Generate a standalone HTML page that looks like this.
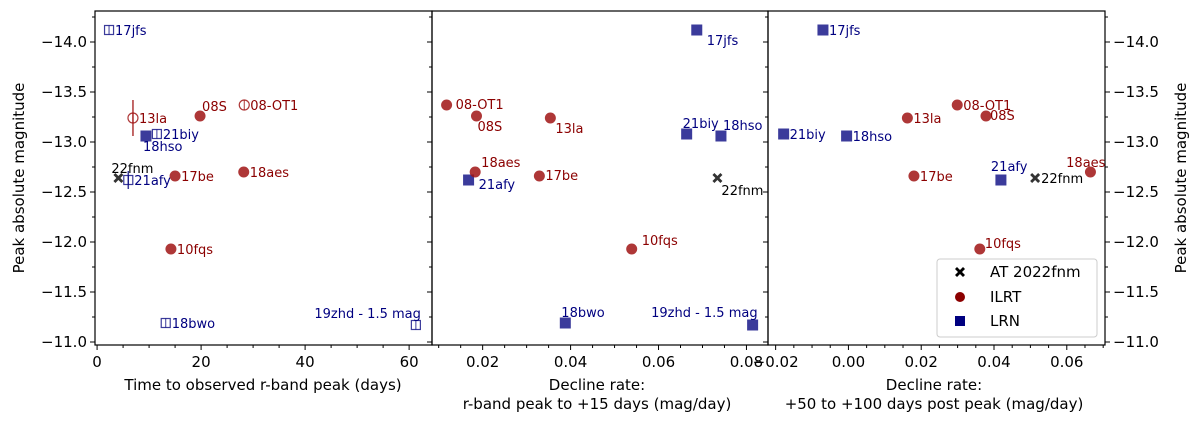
<!DOCTYPE html>
<html><head><meta charset="utf-8">
<style>
html,body{margin:0;padding:0;background:#fff;}
svg{display:block;font-family:"DejaVu Sans","Liberation Sans",sans-serif;}
</style></head>
<body>
<svg id="chart" width="1200" height="424" viewBox="0 0 1200 424" xmlns="http://www.w3.org/2000/svg">
<g id="plot"></g>
</svg>
<script>
// ---- data ----
const names = ["17jfs","13la","08S","08-OT1","18hso","21biy","22fnm","21afy","17be","18aes","10fqs","18bwo","19zhd - 1.5 mag"];
const classes = ["LRN","ILRT","ILRT","ILRT","LRN","LRN","AT","LRN","ILRT","ILRT","ILRT","LRN","LRN"];
const peakMag = [-14.12,-13.24,-13.26,-13.37,-13.06,-13.08,-12.64,-12.62,-12.66,-12.70,-11.93,-11.19,-11.17];
const riseDays = [2.3,6.9,19.8,28.3,9.4,11.5,4.1,6.0,15.0,28.2,14.2,13.2,61.3];
const riseOpen = [true,true,false,true,false,true,false,true,false,false,false,true,true];
const magErr = [0,0.18,0,0,0,0,0,0.09,0,0,0,0,0];
const decline15 = [0.0687,0.0354,0.0186,0.0118,0.0742,0.0664,0.0734,0.0168,0.0329,0.0183,0.0539,0.0388,0.0814];
const decline50 = [-0.0070,0.0162,0.0378,0.0299,-0.0005,-0.0178,0.0513,0.0419,0.0180,0.0665,0.0361,null,null];
const yTicks = [-14.0,-13.5,-13.0,-12.5,-12.0,-11.5,-11.0];
const x1Ticks = [0,20,40,60];
const x2Ticks = [0.02,0.04,0.06,0.08];
const x3Ticks = [-0.02,0.00,0.02,0.04,0.06];
// label offsets (layout, not data)
const off1 = [[6,5],[6,5],[2,-5],[6,5],[-3,15],[6,5],[-7,-5],[6,5],[6,5],[6,5],[6,5],[6,5],[5,-7,'end']];
const off2 = [[10,15],[5,15],[1,15],[9,4],[2,-6],[-4,-6],[4,17],[10,9],[6,4],[6,-5],[10,-4],[-4,-6],[5,-8,'end']];
const off3 = [[6,5],[6,5],[4,4],[6,5],[6,5],[6,5],[6,5],[-10,-9],[6,5],[15,-5,'end'],[5,-1],null,null];

const NS="http://www.w3.org/2000/svg";
const root=document.getElementById('plot');
function el(tag,attrs,parent){const e=document.createElementNS(NS,tag);for(const k in attrs)e.setAttribute(k,attrs[k]);(parent||root).appendChild(e);return e;}
const yTop=11,yBot=345;
const yMin=-14.31,yMax=-10.97;
function Y(m){return yTop+(m-yMin)/(yMax-yMin)*(yBot-yTop);}
const panels=[
 {x0:95,x1:432,lo:-0.4,hi:64.4,ticks:x1Ticks,minor:5,fmt:v=>String(v),xs:riseDays,off:off1,name:'rise-time-panel'},
 {x0:432,x1:768,lo:0.00848,hi:0.0849,ticks:x2Ticks,minor:0.005,fmt:v=>v.toFixed(2),xs:decline15,off:off2,name:'early-decline-panel'},
 {x0:768,x1:1105,lo:-0.0221,hi:0.0705,ticks:x3Ticks,minor:0.005,fmt:v=>(v<0?'\u22120':'0')+Math.abs(v).toFixed(2).slice(1),xs:decline50,off:off3,name:'late-decline-panel'}
];
const fillC={ILRT:'rgba(160,20,20,0.85)',LRN:'rgba(10,10,130,0.8)',AT:'rgba(0,0,0,0.8)'};
const textC={ILRT:'#8b0000',LRN:'#000080',AT:'#000'};

function cross(g,x,y,c){
  const p=el('path',{d:`M${x-5},${y-3} L${x-3},${y-5} L${x},${y-2} L${x+3},${y-5} L${x+5},${y-3} L${x+2},${y} L${x+5},${y+3} L${x+3},${y+5} L${x},${y+2} L${x-3},${y+5} L${x-5},${y+3} L${x-2},${y} Z`,fill:c},g);
  return p;
}

panels.forEach((P,pi)=>{
  const g=el('g',{});
  
  
  const X=v=>P.x0+(v-P.lo)/(P.hi-P.lo)*(P.x1-P.x0);
  // frame
  const fr=el('rect',{x:P.x0,y:yTop,width:P.x1-P.x0,height:yBot-yTop,fill:'none',stroke:'#000','stroke-width':1.2},g);
  
  
  // x ticks
  let start=Math.ceil(P.lo/P.minor-1e-9);
  for(let k=start;k*P.minor<=P.hi;k++){
    const v=k*P.minor,x=X(v);
    const major=P.ticks.some(t=>Math.abs(t-v)<1e-9);
    el('line',{x1:x,x2:x,y1:yBot,y2:yBot+(major?5:3),stroke:'#000','stroke-width':1},g);
  }
  P.ticks.forEach(t=>{
    const tx=el('text',{x:X(t),y:yBot+22,'font-size':15,'text-anchor':'middle',fill:'#000'},g);
    tx.textContent=P.fmt(t);
    
    
  });
  // y ticks left
  for(let m=-14.25;m<=-11;m+=0.25){
    const major=Math.abs(m*2-Math.round(m*2))<1e-9;
    const y=Y(m);
    el('line',{x1:P.x0,x2:P.x0-(major?5:3),y1:y,y2:y,stroke:'#000','stroke-width':1},g);
    if(pi==2) el('line',{x1:P.x1,x2:P.x1+(major?5:3),y1:y,y2:y,stroke:'#000','stroke-width':1},g);
  }
  if(pi==0||pi==2){
    yTicks.forEach(m=>{
      const t=el('text',{x:pi==0?P.x0-8:P.x1+8,y:Y(m)+5,'font-size':15,'text-anchor':pi==0?'end':'start',fill:'#000'},g);
      t.textContent='\u2212'+Math.abs(m).toFixed(1);
      
      
    });
  }
  // points
  names.forEach((n,i)=>{
    const xv=P.xs[i]; if(xv===null||xv===undefined) return;
    const x=X(xv),y=Y(peakMag[i]),c=classes[i];
    const open=pi==0&&riseOpen[i];
    const pg=el('g',{},g);
    
    
    if(pi==0&&magErr[i]>0){
      el('line',{x1:x,x2:x,y1:Y(peakMag[i]-magErr[i]),y2:Y(peakMag[i]+magErr[i]),stroke:fillC[c],'stroke-width':1.5},pg);
    }
    if(c==='AT'){cross(pg,x,y,fillC.AT);}
    else if(c==='ILRT'){
      if(open){el('circle',{cx:x,cy:y,r:5,fill:'none',stroke:fillC[c],'stroke-width':1.2},pg);el('line',{x1:x,x2:x,y1:y-5,y2:y+5,stroke:fillC[c],'stroke-width':1},pg);}
      else el('circle',{cx:x,cy:y,r:5.5,fill:fillC[c]},pg);
    } else {
      if(open){el('rect',{x:x-4.5,y:y-4.5,width:9,height:9,fill:'none',stroke:fillC[c],'stroke-width':1.2},pg);el('line',{x1:x,x2:x,y1:y-4.5,y2:y+4.5,stroke:fillC[c],'stroke-width':1},pg);}
      else el('rect',{x:x-5.5,y:y-5.5,width:11,height:11,fill:fillC[c]},pg);
    }
    const o=P.off[i];
    const t=el('text',{x:x+o[0],y:y+o[1],'font-size':13,fill:textC[c],'text-anchor':o[2]||'start'},pg);
    t.textContent=n;
    
    
  });
});
// axis titles
function txt(attrs,s,name){const t=el('text',attrs);t.textContent=s;return t;}
txt({x:0,y:0,'font-size':15,'text-anchor':'middle',transform:'translate(24,178) rotate(-90)'},'Peak absolute magnitude','y-axis-title-left');
txt({x:0,y:0,'font-size':15,'text-anchor':'middle',transform:'translate(1186,178) rotate(-90)'},'Peak absolute magnitude','y-axis-title-right');
txt({x:263,y:390,'font-size':15,'text-anchor':'middle'},'Time to observed r-band peak (days)','x-axis-title-rise');
txt({x:597,y:390,'font-size':15,'text-anchor':'middle'},'Decline rate:','x-axis-title-early-line1');
txt({x:597,y:409,'font-size':15,'text-anchor':'middle'},'r-band peak to +15 days (mag/day)','x-axis-title-early-line2');
txt({x:934,y:390,'font-size':15,'text-anchor':'middle'},'Decline rate:','x-axis-title-late-line1');
txt({x:934,y:409,'font-size':15,'text-anchor':'middle'},'+50 to +100 days post peak (mag/day)','x-axis-title-late-line2');
// legend
const lg=el('g',{});


el('rect',{x:937,y:259,width:160,height:78,rx:3,fill:'#fff',stroke:'#ccc','stroke-width':1},lg);
cross(lg,960,272,'#000');
el('circle',{cx:960,cy:297,r:5,fill:'#8b0000'},lg);
el('rect',{x:955,y:316,width:10,height:10,fill:'#000080'},lg);
[['AT 2022fnm',272],['ILRT',297],['LRN',321]].forEach(([s,y])=>{
  const t=el('text',{x:990,y:y+5,'font-size':15,fill:'#000'},lg);t.textContent=s;
  
  
});
</script>
</body></html>
